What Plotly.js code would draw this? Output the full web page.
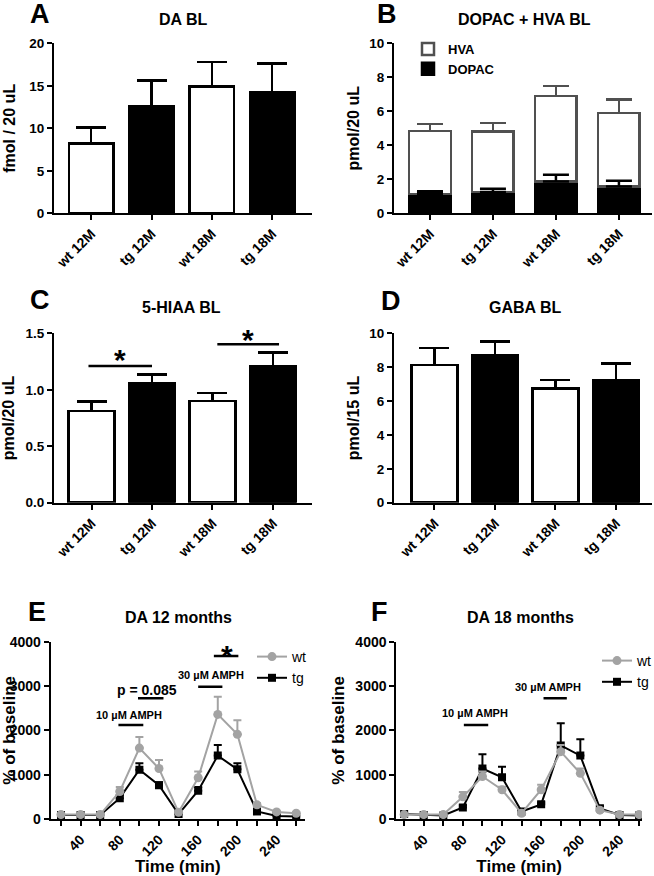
<!DOCTYPE html>
<html>
<head>
<meta charset="utf-8">
<script src="https://cdn.plot.ly/plotly-3.0.1.min.js"></script>
<style>
html,body{margin:0;padding:0;background:#fff;}
#chart{width:654px;height:876px;}
</style>
</head>
<body>
<div id="chart"></div>
<script>
// ---------- data ----------
const groups = ['wt 12M', 'tg 12M', 'wt 18M', 'tg 18M'];

const daBL = [8.2, 12.6, 14.9, 14.3];
const daBLErr = [1.9, 3.0, 2.9, 3.3];

const dopacBL = [1.15, 1.25, 1.87, 1.58];
const dopacErr = [0.15, 0.2, 0.4, 0.33];
const hvaBL = [3.7, 3.55, 5.03, 4.32];
const hvaErr = [0.4, 0.5, 0.6, 0.8];

const hiaaBL = [0.81, 1.06, 0.90, 1.205];
const hiaaErr = [0.085, 0.075, 0.07, 0.125];

const gabaBL = [8.13, 8.72, 6.73, 7.21];
const gabaErr = [1.0, 0.8, 0.52, 1.02];

const timeMin = [20, 40, 60, 80, 100, 120, 140, 160, 180, 200, 220, 240, 260];

const wt12 = [100, 100, 100, 620, 1600, 1140, 150, 930, 2360, 1910, 320, 160, 130];
const wt12Err = [20, 20, 20, 100, 250, 190, 30, 140, 400, 320, 40, 25, 20];
const tg12 = [90, 90, 90, 470, 1110, 760, 110, 640, 1430, 1120, 170, 70, 55];
const tg12Err = [15, 15, 15, 60, 150, 70, 30, 80, 240, 140, 40, 20, 15];

const wt18 = [100, 100, 100, 500, 960, 660, 130, 660, 1520, 1030, 200, 100, 100];
const wt18Err = [20, 20, 20, 110, 110, 70, 30, 110, 150, 110, 40, 20, 20];
const tg18 = [110, 90, 80, 260, 1140, 940, 170, 330, 1660, 1430, 240, 90, 80];
const tg18Err = [20, 15, 15, 50, 320, 240, 40, 50, 500, 370, 50, 20, 15];

// ---------- helpers ----------
const W = 654, H = 876;
const px = x => x / W;
const py = y => 1 - y / H;
const FONT = 'Liberation Sans, Arial, sans-serif';
const bold = (size, color) => ({family: FONT, size: size, color: color || '#000', weight: 'bold'});
const GRAY = '#a3a3a3';
const HVA_LINE = '#505050';
const zeros = n => new Array(n).fill(0);
const fillFor = g => g.startsWith('wt') ? 'white' : 'black';

function barTrace(vals, errs, xa, ya, width) {
  return {
    type: 'bar', x: groups, y: vals, xaxis: xa, yaxis: ya, width: width,
    marker: {color: groups.map(fillFor), line: {color: '#000', width: 2.5}},
    error_y: {type: 'data', array: errs, arrayminus: zeros(errs.length), symmetric: false,
              color: '#000', thickness: 2.5, width: 15},
    showlegend: false, hoverinfo: 'skip'
  };
}

function lineTrace(name, y, err, color, symbol, size, xa, ya, legend) {
  return {
    type: 'scatter', mode: 'lines+markers', name: name, x: timeMin, y: y,
    xaxis: xa, yaxis: ya, legend: legend,
    line: {color: color, width: 2},
    marker: {color: color, symbol: symbol, size: size},
    error_y: {type: 'data', array: err, arrayminus: zeros(err.length), symmetric: false,
              color: color, thickness: 2, width: 4}
  };
}

const traces = [
  barTrace(daBL, daBLErr, 'x', 'y', 0.74),
  {
    type: 'bar', name: 'DOPAC', x: groups, y: dopacBL, xaxis: 'x2', yaxis: 'y2', width: 0.66,
    marker: {color: 'black', line: {color: '#000', width: 2.5}},
    legend: 'legend'
  },
  {
    type: 'bar', name: 'HVA', x: groups, y: hvaBL, xaxis: 'x2', yaxis: 'y2', width: 0.66,
    marker: {color: 'white', line: {color: HVA_LINE, width: 2.5}},
    error_y: {type: 'data', array: hvaErr, arrayminus: zeros(4), symmetric: false,
              color: HVA_LINE, thickness: 2.5, width: 13},
    legend: 'legend'
  },
  // DOPAC error bars, drawn above the stacked HVA bars
  {
    type: 'scatter', mode: 'markers', x: groups, y: dopacBL, xaxis: 'x2', yaxis: 'y2',
    marker: {size: 1, opacity: 0},
    error_y: {type: 'data', array: dopacErr, arrayminus: zeros(4), symmetric: false,
              color: '#000', thickness: 2.5, width: 13},
    showlegend: false, hoverinfo: 'skip'
  },
  barTrace(hiaaBL, hiaaErr, 'x3', 'y3', 0.76),
  barTrace(gabaBL, gabaErr, 'x4', 'y4', 0.76),
  lineTrace('tg', tg12, tg12Err, '#000', 'square', 8, 'x5', 'y5', 'legend2'),
  lineTrace('wt', wt12, wt12Err, GRAY, 'circle', 9, 'x5', 'y5', 'legend2'),
  lineTrace('tg', tg18, tg18Err, '#000', 'square', 8, 'x6', 'y6', 'legend3'),
  lineTrace('wt', wt18, wt18Err, GRAY, 'circle', 9, 'x6', 'y6', 'legend3')
];

const axBase = {
  showline: true, linecolor: '#000', linewidth: 2, showgrid: false, zeroline: false,
  ticks: 'outside', ticklen: 5, tickwidth: 2, tickcolor: '#000', fixedrange: true
};
const catAx = (domain, range) => Object.assign({}, axBase, {
  domain: domain, type: 'category', range: range, tickangle: -45, tickfont: bold(14)
});
const valAx = (domain, range, dtick, title, standoff, extra) => Object.assign({}, axBase, {
  domain: domain, range: range, dtick: dtick, tickmode: 'linear', tick0: 0,
  tickfont: bold(13.5), title: {text: title, font: bold(16), standoff: standoff}
}, extra || {});

const topY = [py(213.3), py(43.3)];
const midY = [py(502.7), py(333.3)];
const botY = [py(819), py(641.7)];

const timeAx = (domain, range, anchor) => Object.assign({}, axBase, {
  domain: domain, range: range, anchor: anchor, tickmode: 'linear', tick0: 0, dtick: 40,
  tickangle: -45, tickfont: bold(14),
  minor: {tickmode: 'linear', tick0: 0, dtick: 20, ticks: 'outside', ticklen: 5, tickwidth: 2, tickcolor: '#000', showgrid: false},
  title: {text: 'Time (min)', font: bold(17), standoff: 7}
});
const pctAx = (domain, anchor) => Object.assign({}, axBase, {
  domain: domain, range: [0, 4000], anchor: anchor, tickmode: 'linear', tick0: 0, dtick: 1000,
  tickfont: bold(14), tickformat: 'd',
  title: {text: '% of baseline', font: bold(17), standoff: 6}
});

function ann(text, x, y, font, extra) {
  return Object.assign({text: text, x: x, y: y, xref: 'paper', yref: 'paper', showarrow: false,
    xanchor: 'center', yanchor: 'middle', font: font}, extra || {});
}
function dAnn(text, x, y, xref, yref, font) {
  return {text: text, x: x, y: y, xref: xref, yref: yref, showarrow: false,
    xanchor: 'center', yanchor: 'middle', font: font};
}
function hline(x0, x1, y, xref, yref) {
  return {type: 'line', xref: xref, yref: yref, x0: x0, x1: x1, y0: y, y1: y,
    line: {color: '#000', width: 2.5}};
}

const layout = {
  width: W, height: H,
  margin: {l: 0, r: 0, t: 0, b: 0, autoexpand: false},
  paper_bgcolor: '#fff', plot_bgcolor: 'rgba(0,0,0,0)',
  barmode: 'stack',
  font: {family: FONT, color: '#000'},
  showlegend: true,
  xaxis: Object.assign(catAx([px(54), px(312)], [-0.617, 3.66]), {anchor: 'y'}),
  yaxis: Object.assign(valAx(topY, [0, 20], 5, 'fmol / 20 uL', 10), {anchor: 'x'}),
  xaxis2: Object.assign(catAx([px(394), px(652)], [-0.571, 3.525]), {anchor: 'y2'}),
  yaxis2: Object.assign(valAx(topY, [0, 10], 2, 'pmol/20 uL', 6), {anchor: 'x2'}),
  xaxis3: Object.assign(catAx([px(54), px(312)], [-0.62, 3.645]), {anchor: 'y3'}),
  yaxis3: Object.assign(valAx(midY, [0, 1.5], 0.5, 'pmol/20 uL', 10, {tickformat: '.1f'}), {anchor: 'x3'}),
  xaxis4: Object.assign(catAx([px(394), px(652)], [-0.669, 3.595]), {anchor: 'y4'}),
  yaxis4: Object.assign(valAx(midY, [0, 10], 2, 'pmol/15 uL', 6), {anchor: 'x4'}),
  xaxis5: timeAx([px(50.7), px(305)], [9.5, 269], 'y5'),
  yaxis5: pctAx(botY, 'x5'),
  xaxis6: timeAx([px(396.3), px(642)], [12, 263], 'y6'),
  yaxis6: pctAx(botY, 'x6'),
  legend: {x: px(408), y: py(34), xanchor: 'left', yanchor: 'top', bgcolor: 'rgba(0,0,0,0)',
           font: bold(13), traceorder: 'reversed', tracegroupgap: 0},
  legend2: {x: px(252), y: py(641), xanchor: 'left', yanchor: 'top', bgcolor: 'rgba(0,0,0,0)',
            font: {family: FONT, size: 14, color: '#000'}, traceorder: 'reversed'},
  legend3: {x: px(597), y: py(645), xanchor: 'left', yanchor: 'top', bgcolor: 'rgba(0,0,0,0)',
            font: {family: FONT, size: 14, color: '#000'}, traceorder: 'reversed'},
  annotations: [
    ann('A', px(40), py(14), bold(27)),
    ann('B', px(387), py(14), bold(27)),
    ann('C', px(40), py(300), bold(27)),
    ann('D', px(391), py(301), bold(27)),
    ann('E', px(37), py(612), bold(27)),
    ann('F', px(379), py(612), bold(27)),
    ann('DA BL', px(183), py(20), bold(16)),
    ann('DOPAC + HVA BL', px(524), py(20), bold(16)),
    ann('5-HIAA BL', px(181), py(307), bold(16)),
    ann('GABA BL', px(525), py(308), bold(16)),
    ann('DA 12 months', px(178), py(617), bold(16)),
    ann('DA 18 months', px(520), py(617), bold(16)),
    dAnn('*', 0.47, 1.264, 'x3', 'y3', bold(30)),
    dAnn('*', 2.58, 1.446, 'x3', 'y3', bold(30)),
    dAnn('10 µM AMPH', 89, 2346, 'x5', 'y5', bold(11)),
    dAnn('p = 0.085', 107.7, 2910, 'x5', 'y5', bold(14)),
    dAnn('30 µM AMPH', 172.7, 3249, 'x5', 'y5', bold(11)),
    dAnn('*', 188.9, 3693, 'x5', 'y5', bold(30)),
    dAnn('10 µM AMPH', 92.2, 2385, 'x6', 'y6', bold(11)),
    dAnn('30 µM AMPH', 166.9, 2985, 'x6', 'y6', bold(11))
  ],
  shapes: [
    hline(-0.05, 1.0, 1.21, 'x3', 'y3'),
    hline(2.08, 3.1, 1.403, 'x3', 'y3'),
    hline(78.6, 104, 2120, 'x5', 'y5'),
    hline(98.6, 124.6, 2722, 'x5', 'y5'),
    hline(160, 184.7, 2985, 'x5', 'y5'),
    hline(176, 201, 3677, 'x5', 'y5'),
    hline(81, 105.9, 2121, 'x6', 'y6'),
    hline(162.4, 186.2, 2723, 'x6', 'y6')
  ]
};

Plotly.newPlot('chart', traces, layout, {displayModeBar: false, staticPlot: true});
</script>
</body>
</html>
